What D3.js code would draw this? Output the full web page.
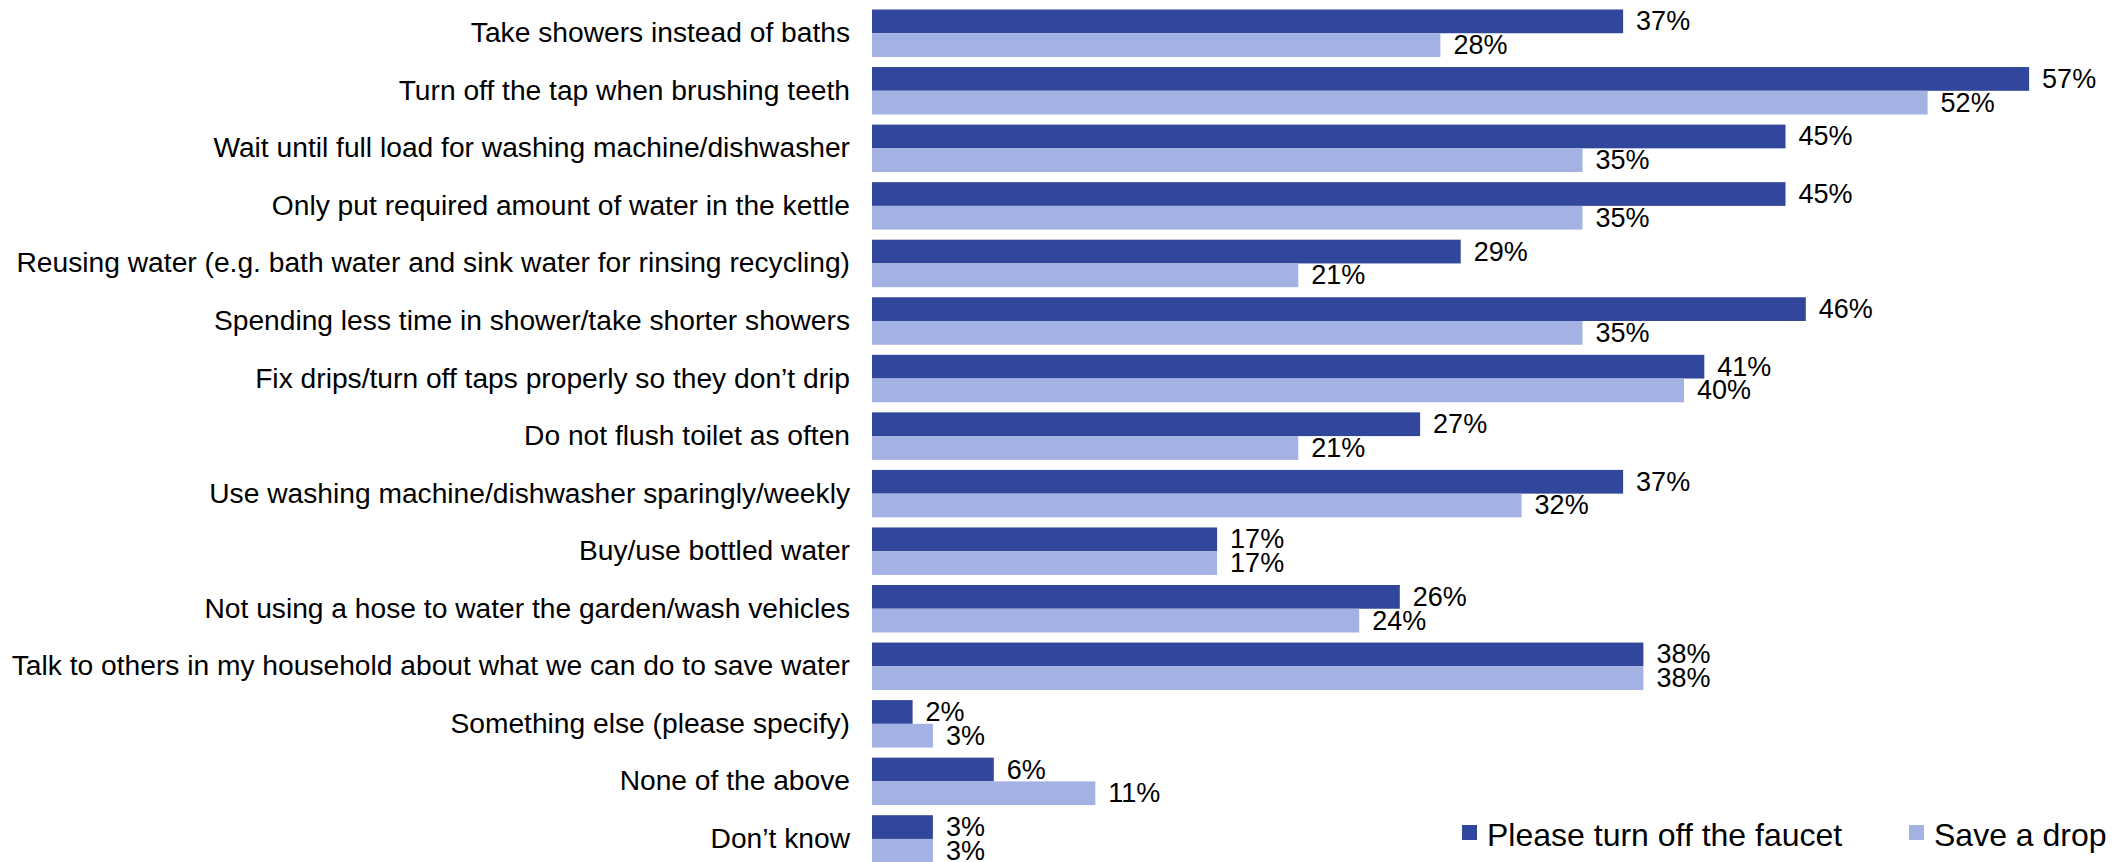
<!DOCTYPE html>
<html>
<head>
<meta charset="utf-8">
<script src="https://cdn.jsdelivr.net/npm/d3@7"></script>
<style>
  html, body { margin: 0; padding: 0; background: #ffffff; }
  svg { display: block; }
  text { font-family: "Liberation Sans", Arial, sans-serif; fill: #000; }
</style>
</head>
<body>
<svg id="chart" width="2123" height="862"></svg>
<script>
// Water-saving actions, share of respondents per campaign
const categories = [
  "Take showers instead of baths",
  "Turn off the tap when brushing teeth",
  "Wait until full load for washing machine/dishwasher",
  "Only put required amount of water in the kettle",
  "Reusing water (e.g. bath water and sink water for rinsing recycling)",
  "Spending less time in shower/take shorter showers",
  "Fix drips/turn off taps properly so they don\u2019t drip",
  "Do not flush toilet as often",
  "Use washing machine/dishwasher sparingly/weekly",
  "Buy/use bottled water",
  "Not using a hose to water the garden/wash vehicles",
  "Talk to others in my household about what we can do to save water",
  "Something else (please specify)",
  "None of the above",
  "Don\u2019t know"
];
const seriesNames = ["Please turn off the faucet", "Save a drop"];
const faucetValues = [37, 57, 45, 45, 29, 46, 41, 27, 37, 17, 26, 38, 2, 6, 3];
const dropValues   = [28, 52, 35, 35, 21, 35, 40, 21, 32, 17, 24, 38, 3, 11, 3];
const seriesColors = ["#30479B", "#A3B1E3"];

const svg = d3.select("#chart");

const x = d3.scaleLinear().domain([0, 60]).range([872, 2090]);

const bandStep = 57.55;
const pad = 0.175;
const yTop = 9.5 - bandStep * pad / 2;
const y = d3.scaleBand()
  .domain(categories)
  .range([yTop, yTop + bandStep * categories.length])
  .paddingInner(pad)
  .paddingOuter(pad / 2);

const sub = d3.scaleBand().domain([0, 1]).range([0, y.bandwidth()]);

const rows = categories.map((c, i) => ({
  cat: c,
  vals: [faucetValues[i], dropValues[i]]
}));

// Category labels on the left
const yAxis = d3.axisLeft(y).tickSize(0).tickPadding(22);
const axisG = svg.append("g")
  .attr("transform", `translate(${x(0)},0)`)
  .call(yAxis);
axisG.select(".domain").remove();
axisG.selectAll("text")
  .style("font-family", '"Liberation Sans", Arial, sans-serif')
  .style("font-size", "28.2px")
  .attr("fill", "#000");

const groups = svg.append("g").selectAll("g")
  .data(rows)
  .join("g")
  .attr("transform", d => `translate(0,${y(d.cat)})`);

groups.selectAll("rect")
  .data(d => d.vals.map((v, k) => ({ v, k })))
  .join("rect")
  .attr("x", x(0))
  .attr("y", d => sub(d.k))
  .attr("width", d => x(d.v) - x(0))
  .attr("height", sub.bandwidth())
  .attr("fill", d => seriesColors[d.k]);

groups.selectAll("text.val")
  .data(d => d.vals.map((v, k) => ({ v, k })))
  .join("text")
  .attr("class", "val")
  .attr("x", d => x(d.v) + 13)
  .attr("y", d => sub(d.k) + sub.bandwidth() / 2)
  .attr("dominant-baseline", "central")
  .style("font-size", "27px")
  .text(d => d.v + "%");

// Legend
const legendX = [1462, 1909];
const legend = svg.append("g").selectAll("g")
  .data(seriesNames)
  .join("g")
  .attr("transform", (d, i) => `translate(${legendX[i]},835)`);
legend.append("rect")
  .attr("x", 0)
  .attr("y", -10)
  .attr("width", 15)
  .attr("height", 15)
  .attr("fill", (d, i) => seriesColors[i]);
legend.append("text")
  .attr("x", 25)
  .attr("y", 0)
  .attr("dominant-baseline", "central")
  .style("font-size", "32px")
  .text(d => d);
</script>
</body>
</html>
